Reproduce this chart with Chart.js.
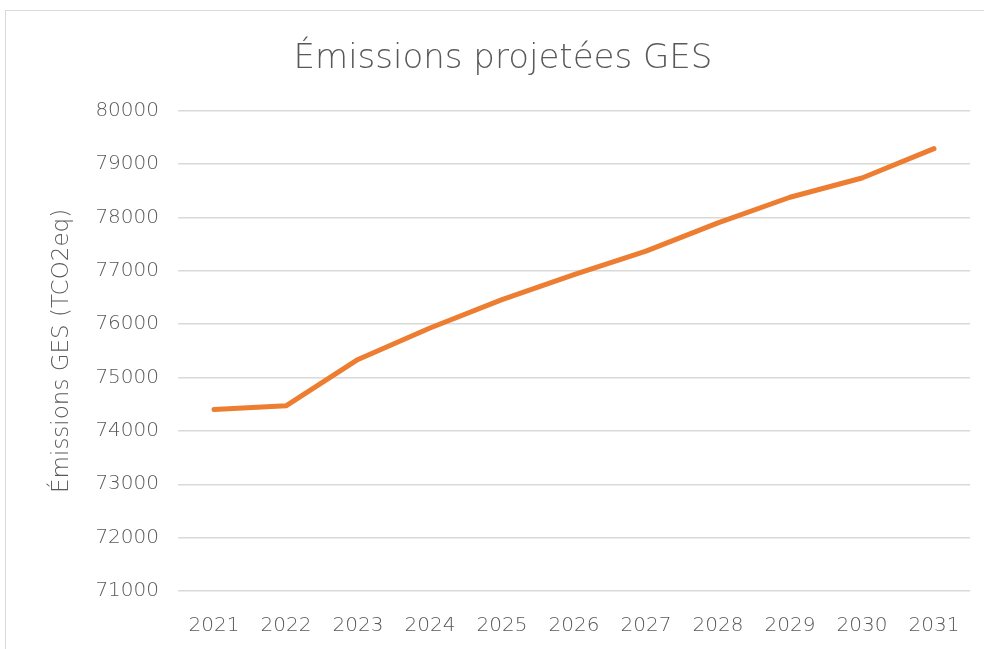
<!DOCTYPE html>
<html><head><meta charset="utf-8">
<script src="https://cdn.jsdelivr.net/npm/chart.js@4.4.0/dist/chart.umd.min.js"></script>
<style>
html,body{margin:0;padding:0;width:984px;height:649px;overflow:hidden;background:#fff;}
#frame{position:absolute;left:5px;top:10px;width:1200px;height:900px;border:1px solid #d9d9d9;}
#wrap{position:absolute;left:0;top:0;width:984px;height:649px;}
</style></head><body>
<div id="frame"></div>
<div id="wrap"><canvas id="c" width="984" height="649"></canvas></div>
<script>
const years = ['2021','2022','2023','2024','2025','2026','2027','2028','2029','2030','2031'];
const emissions = [74400, 74470, 75340, 75930, 76460, 76930, 77370, 77900, 78380, 78740, 79290];
const yMin = 71000, yMax = 80000, yStep = 1000;
const titleText = 'Émissions projetées GES';
const yTitle = 'Émissions GES (TCO2eq)';
const grey = '#595959';
const fam = '"DejaVu Sans", sans-serif';

new Chart(document.getElementById('c'), {
  type: 'line',
  data: { labels: years, datasets: [{
    data: emissions, borderColor: '#ED7D31', borderWidth: 5,
    pointRadius: 0, tension: 0, borderCapStyle: 'round', borderJoinStyle: 'round', fill: false
  }]},
  options: {
    responsive: false, animation: false,
    layout: { padding: { left: 36, right: 14, top: 0, bottom: 0 } },
    plugins: {
      legend: { display: false }, tooltip: { enabled: false },
      title: { display: true, text: titleText, color: grey,
        font: { family: fam, size: 34, weight: '200' }, padding: { top: 39, bottom: 31 } }
    },
    scales: {
      x: { offset: true,
        grid: { display: false, drawTicks: false }, border: { display: false },
        ticks: { color: grey, font: { family: fam, size: 20, weight: '200' }, padding: 23, maxRotation: 0 },
        afterFit: s => { s.height = 58; } },
      y: { min: yMin, max: yMax,
        grid: { color: '#d9d9d9', lineWidth: 1.5, drawTicks: false }, border: { display: false },
        ticks: { stepSize: yStep, color: grey, font: { family: fam, size: 20, weight: '200' }, padding: 19,
          callback: v => String(v) },
        title: { display: true, text: yTitle, color: grey, font: { family: fam, size: 23, weight: '200' }, padding: { top: 12, bottom: 0 } },
        afterFit: s => { s.width = 142; } }
    }
  }
});
</script></body></html>
